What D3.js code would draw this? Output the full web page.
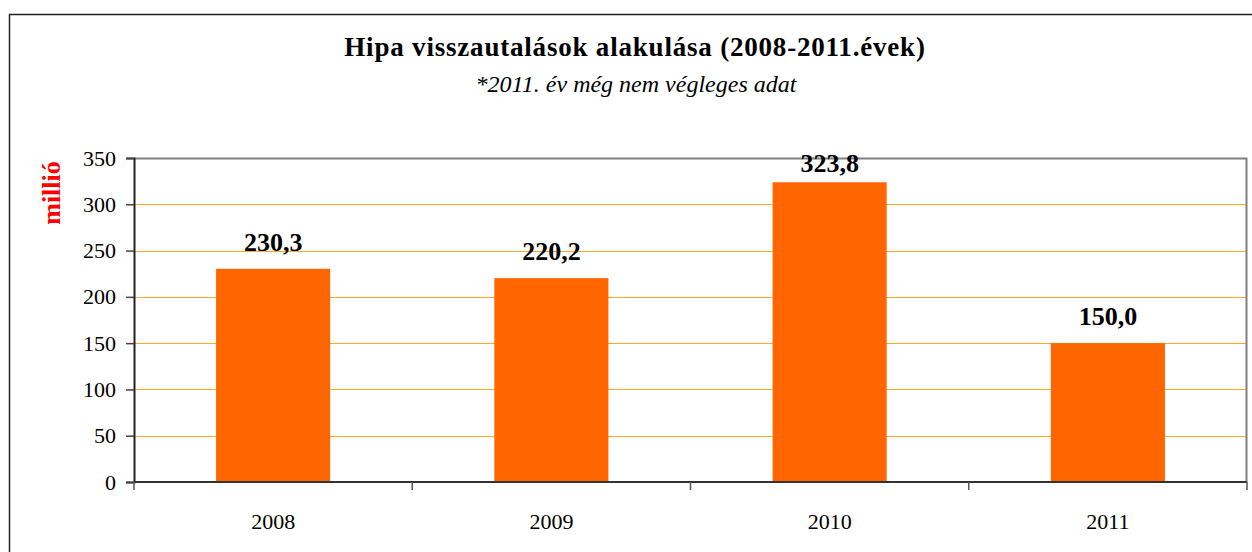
<!DOCTYPE html>
<meta charset="utf-8">
<script src="https://d3js.org/d3.v7.min.js"></script>
<style>
  body { margin: 0; background: #fff; }
</style>
<div id="chart"></div>
<script>
  // data
  var years = ["2008", "2009", "2010", "2011"];
  var values = [230.3, 220.2, 323.8, 150.0];
  var yTicks = [0, 50, 100, 150, 200, 250, 300, 350];

  var FONT = "Liberation Serif, Times New Roman, serif";
  var W = 1252, H = 552;
  var margin = { top: 158, right: 5, bottom: 70, left: 134 },
    width = W - margin.left - margin.right,
    height = H - margin.top - margin.bottom;

  var svg = d3.select("#chart")
    .append("svg")
    .attr("width", W)
    .attr("height", H)
    .style("font-family", FONT);

  // outer chart frame
  svg.append("rect")
    .attr("x", 9.5)
    .attr("y", 14.5)
    .attr("width", W + 20)
    .attr("height", H + 20)
    .attr("fill", "none")
    .attr("stroke", "#222")
    .attr("stroke-width", 1.5);

  svg.append("text")
    .attr("x", 635)
    .attr("y", 56)
    .attr("text-anchor", "middle")
    .style("font-family", FONT)
    .style("font-size", "27px")
    .style("letter-spacing", "0.8px")
    .style("font-weight", "bold")
    .text("Hipa visszautalások alakulása (2008-2011.évek)");

  svg.append("text")
    .attr("x", 636)
    .attr("y", 92)
    .attr("text-anchor", "middle")
    .style("font-family", FONT)
    .style("font-size", "24px")
    .style("font-style", "italic")
    .text("*2011. év még nem végleges adat");

  svg.append("text")
    .attr("transform", "translate(60,193) rotate(-90)")
    .attr("text-anchor", "middle")
    .style("font-family", FONT)
    .style("font-size", "26px")
    .style("font-weight", "bold")
    .style("fill", "#ff0000")
    .text("millió");

  var g = svg.append("g")
    .attr("transform", "translate(" + margin.left + "," + margin.top + ")");

  var x = d3.scaleBand()
    .domain(years)
    .range([0, width])
    .paddingInner(0.59)
    .paddingOuter(0.295);

  var xCat = d3.scaleBand()
    .domain(years)
    .range([0, width]);

  var y = d3.scaleLinear()
    .domain([0, 350])
    .range([height, 0]);

  // grid lines
  g.append("g")
    .selectAll("line")
    .data(yTicks.filter(function (d) { return d > 0 && d < 350; }))
    .enter()
    .append("line")
    .attr("x1", 0)
    .attr("x2", width)
    .attr("y1", function (d) { return Math.round(y(d)) + 0.5; })
    .attr("y2", function (d) { return Math.round(y(d)) + 0.5; })
    .attr("stroke", "#ffaa22")
    .attr("stroke-width", 1.2);

  // plot area border (top / right)
  g.append("path")
    .attr("d", "M0," + 0.5 + "H" + (width - 0.5) + "V" + height)
    .attr("fill", "none")
    .attr("stroke", "#808080")
    .attr("stroke-width", 2);

  // bars
  g.selectAll("rect.bar")
    .data(values)
    .enter()
    .append("rect")
    .attr("class", "bar")
    .attr("x", function (d, i) { return x(years[i]); })
    .attr("width", x.bandwidth())
    .attr("y", function (d) { return y(d); })
    .attr("height", function (d) { return height - y(d); })
    .style("fill", "#ff6600");

  // value labels
  g.selectAll("text.val")
    .data(values)
    .enter()
    .append("text")
    .attr("class", "val")
    .attr("x", function (d, i) { return x(years[i]) + x.bandwidth() / 2; })
    .attr("y", function (d) { return Math.max(y(d) - 18, 14); })
    .attr("text-anchor", "middle")
    .style("font-family", FONT)
    .style("font-size", "26px")
    .style("font-weight", "bold")
    .text(function (d) { return d.toFixed(1).replace(".", ","); });

  // y axis
  var yAxis = g.append("g")
    .call(d3.axisLeft(y).tickValues(yTicks).tickSize(8).tickPadding(10));
  yAxis.select(".domain").attr("stroke", "#222").attr("stroke-width", 2);
  yAxis.selectAll(".tick line").attr("stroke", "#444").attr("stroke-width", 1.5);
  yAxis.selectAll(".tick text")
    .attr("font-family", null)
    .style("font-family", FONT)
    .style("font-size", "22px")
    .attr("fill", "#000");

  // x axis: ticks at category boundaries
  var xAxis = g.append("g")
    .attr("transform", "translate(0," + height + ")");
  xAxis.append("line")
    .attr("x1", 0)
    .attr("x2", width)
    .attr("stroke", "#333")
    .attr("stroke-width", 2);
  xAxis.selectAll("line.tk")
    .data(years.concat(["end"]))
    .enter()
    .append("line")
    .attr("class", "tk")
    .attr("x1", function (d, i) { return i < years.length ? xCat(d) : width; })
    .attr("x2", function (d, i) { return i < years.length ? xCat(d) : width; })
    .attr("y1", 0)
    .attr("y2", 8)
    .attr("stroke", "#555")
    .attr("stroke-width", 1.5);
  xAxis.selectAll("text")
    .data(years)
    .enter()
    .append("text")
    .attr("x", function (d) { return xCat(d) + xCat.bandwidth() / 2; })
    .attr("y", 47)
    .attr("text-anchor", "middle")
    .style("font-family", FONT)
    .style("font-size", "22px")
    .text(function (d) { return d; });
</script>
